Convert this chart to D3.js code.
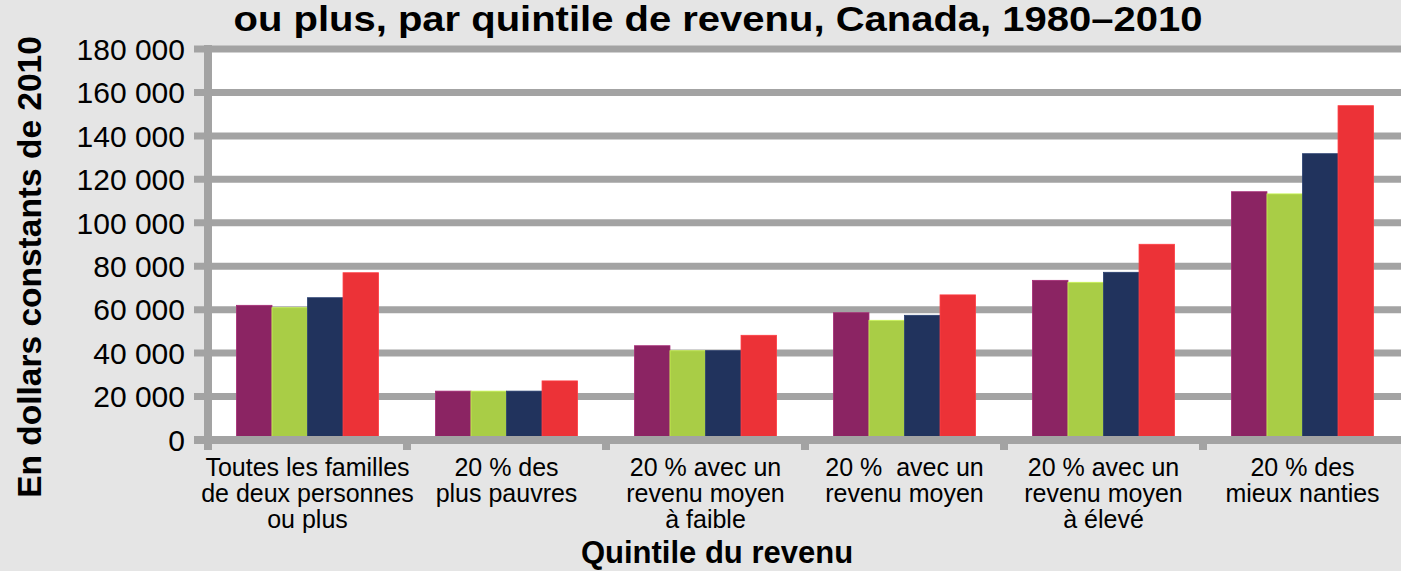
<!DOCTYPE html>
<html><head><meta charset="utf-8">
<script src="https://cdn.jsdelivr.net/npm/d3@7"></script>
<style>
html,body{margin:0;padding:0;background:#e5e5e5;}
svg{display:block;font-family:"Liberation Sans",Arial,Helvetica,sans-serif;}
</style></head>
<body>
<svg id="chart" width="1401" height="571"></svg>
<script>
const categories = [
  ["Toutes les familles","de deux personnes","ou plus"],
  ["20 % des","plus pauvres"],
  ["20 % avec un","revenu moyen","à faible"],
  ["20 %  avec un","revenu moyen"],
  ["20 % avec un","revenu moyen","à élevé"],
  ["20 % des","mieux nanties"]
];
const seriesNames = ["1980","1990","2000","2010"];
const seriesColors = ["#8b2463","#a9cd46","#21335d","#ec3237"];
const values1980 = [62000, 22500, 43400, 58600, 73500, 114300];
const values1990 = [60900, 22500, 41100, 55100, 72600, 113300];
const values2000 = [65500, 22500, 41100, 57400, 77200, 131800];
const values2010 = [77000, 27200, 48200, 66800, 90100, 153900];
const yTicks = [0,20000,40000,60000,80000,100000,120000,140000,160000,180000];
const titleText = "ou plus, par quintile de revenu, Canada, 1980–2010";
const yTitle = "En dollars constants de 2010";
const xTitle = "Quintile du revenu";

(function(){
const allValues = [values1980, values1990, values2000, values2010];
const svg = d3.select("#chart");
const pLeft = 208, pRight = 1402, pTop = 49, pBottom = 440;
const grid = "#a3a3a3";

const catIdx = categories.map((d,i)=>i);
const x0 = d3.scaleBand().domain(catIdx).range([pLeft, pRight]).padding(0);
const x1 = d3.scaleBand().domain(seriesNames).range([0, x0.bandwidth()]).paddingInner(0).paddingOuter(0.8);
const y = d3.scaleLinear().domain([0,180000]).range([pBottom, pTop]);

svg.append("rect").attr("x", pLeft).attr("y", pTop).attr("width", 1401-pLeft).attr("height", pBottom-pTop).attr("fill","#ffffff");

svg.append("g").selectAll("line").data(yTicks.filter(t=>t>0)).join("line")
  .attr("x1", pLeft-14).attr("x2", 1401)
  .attr("y1", d=>y(d)).attr("y2", d=>y(d))
  .attr("stroke", grid).attr("stroke-width", 7);

const gBars = svg.append("g");
seriesNames.forEach((s, si) => {
  gBars.append("g").selectAll("rect").data(allValues[si]).join("rect")
    .attr("x", (d,i)=>x0(i)+x1(s))
    .attr("y", d=>y(d))
    .attr("width", x1.bandwidth())
    .attr("height", d=>y(0)-y(d))
    .attr("fill", seriesColors[si])
    .attr("stroke", d3.color(seriesColors[si]).brighter(0.5))
    .attr("stroke-width", 0.8);
});

svg.append("line").attr("x1", pLeft-14).attr("x2", 1401).attr("y1", y(0)).attr("y2", y(0))
  .attr("stroke", grid).attr("stroke-width", 8);
svg.append("line").attr("x1", pLeft).attr("x2", pLeft).attr("y1", pTop-4).attr("y2", pBottom+10)
  .attr("stroke", grid).attr("stroke-width", 8);
svg.append("g").selectAll("line").data(catIdx.slice(1)).join("line")
  .attr("x1", d=>x0(d)).attr("x2", d=>x0(d)).attr("y1", pBottom).attr("y2", pBottom+10)
  .attr("stroke", grid).attr("stroke-width", 8);

const fmt = v => d3.format(",")(v).replace(/,/g, " ");
svg.append("g").selectAll("text").data(yTicks).join("text")
  .attr("x", 185).attr("y", d=>y(d)).attr("dy","0.36em")
  .attr("text-anchor","end").attr("font-size", 30)
  .attr("fill","#000").text(fmt);

const xl = svg.append("g");
categories.forEach((lines, i) => {
  const t = xl.append("text").attr("text-anchor","middle").attr("font-size", 25)
    .attr("fill","#000").style("white-space","pre");
  lines.forEach((ln, li) => {
    t.append("tspan").attr("x", x0(i)+x0.bandwidth()/2).attr("y", 476 + li*26).text(ln);
  });
});

svg.append("text").attr("x", 718).attr("y", 31).attr("text-anchor","middle")
  .attr("font-size", 35).attr("font-weight","bold").attr("fill","#000")
  .attr("textLength", 969).attr("lengthAdjust","spacingAndGlyphs").text(titleText);
svg.append("text").attr("transform","translate(41,267) rotate(-90)").attr("text-anchor","middle")
  .attr("font-size", 33.5).attr("font-weight","bold").attr("fill","#000").text(yTitle);
svg.append("text").attr("x", 717).attr("y", 563).attr("text-anchor","middle")
  .attr("font-size", 31).attr("font-weight","bold").attr("fill","#000").text(xTitle);
})();
</script>
</body></html>
